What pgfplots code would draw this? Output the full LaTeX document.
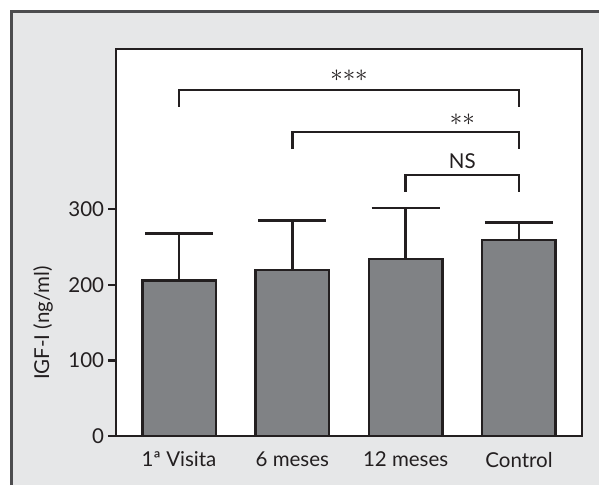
\documentclass[border=0pt]{standalone}
\usepackage{pgfplots}
\pgfplotsset{compat=1.18}
\usepackage{fontspec}
\setmainfont{Lato}
\definecolor{bgc}{HTML}{E6E7E8}
\definecolor{barc}{HTML}{808285}
\definecolor{linec}{HTML}{231F20}
\definecolor{framec}{HTML}{4D4D4F}
\pgfplotstableread{
x y err
0 205.4 62.6
1 219.6 65.2
2 234.0 67.6
3 259.3 23.3
}\datatab
\newcommand{\lfont}{\fontsize{20.5}{24}\selectfont}
\begin{document}
\begin{tikzpicture}[x=1pt,y=1pt]
\useasboundingbox (0,0) rectangle (599,485);
\fill[white] (0,0) rectangle (599,485);
\fill[bgc] (11.5,0) rectangle (599,473.5);
\draw[framec, line width=2.2pt] (11.5,0) -- (11.5,473.5) -- (599,473.5);
\begin{axis}[
  at={(116pt,49pt)}, anchor=south west,
  scale only axis, width=466pt, height=387pt,
  xmin=-0.556, xmax=3.556, ymin=0, ymax=512,
  axis background/.style={fill=white},
  axis line style={linec, line width=2.5pt},
  xtick=data,
  xticklabels={1ª Visita, 6 meses, 12 meses, Control},
  xtick style={draw=none},
  ytick={0,100,200,300},
  ytick pos=left,
  tick align=outside,
  major tick length=7.7pt,
  ytick style={linec, line width=2.2pt},
  /pgf/number format/assume math mode=true,
  ticklabel style={font=\lfont, text=linec},
  yticklabel style={inner sep=0pt, xshift=-4pt},
  xticklabel style={inner sep=0pt, yshift=-8pt},
  ylabel={IGF-I (ng/ml)},
  every axis y label/.style={at={(axis description cs:-0.1567,0.292)}, rotate=90, anchor=center, font=\lfont, text=linec},
  clip=false,
]
\addplot[ybar, bar width=73.5pt, fill=barc, draw=linec, line width=2.5pt,
  error bars/.cd, y dir=plus, y explicit,
  error bar style={linec, line width=2.5pt},
  error mark options={rotate=90, linec, mark size=34pt, line width=2.5pt}]
  table[x=x, y=y, y error=err] {\datatab};
\draw[linec, line width=2.5pt] (axis cs:0,435.6) |- (axis cs:3,457.7) -- (axis cs:3,435.6);
\draw[linec, line width=2.5pt] (axis cs:1,379.6) |- (axis cs:3,402) -- (axis cs:3,379.6);
\draw[linec, line width=2.5pt] (axis cs:2,323) |- (axis cs:3,345) -- (axis cs:3,323);
\node[font=\fontsize{26}{30}\selectfont, text=linec, inner sep=0pt] at (axis cs:1.5,476) {$\mathord{\ast}\mathord{\ast}\mathord{\ast}$};
\node[font=\fontsize{26}{30}\selectfont, text=linec, inner sep=0pt] at (axis cs:2.5,418) {$\mathord{\ast}\mathord{\ast}$};
\node[font=\lfont, text=linec, inner sep=0pt] at (axis cs:2.5,363.5) {NS};
\end{axis}
\end{tikzpicture}
\end{document}
